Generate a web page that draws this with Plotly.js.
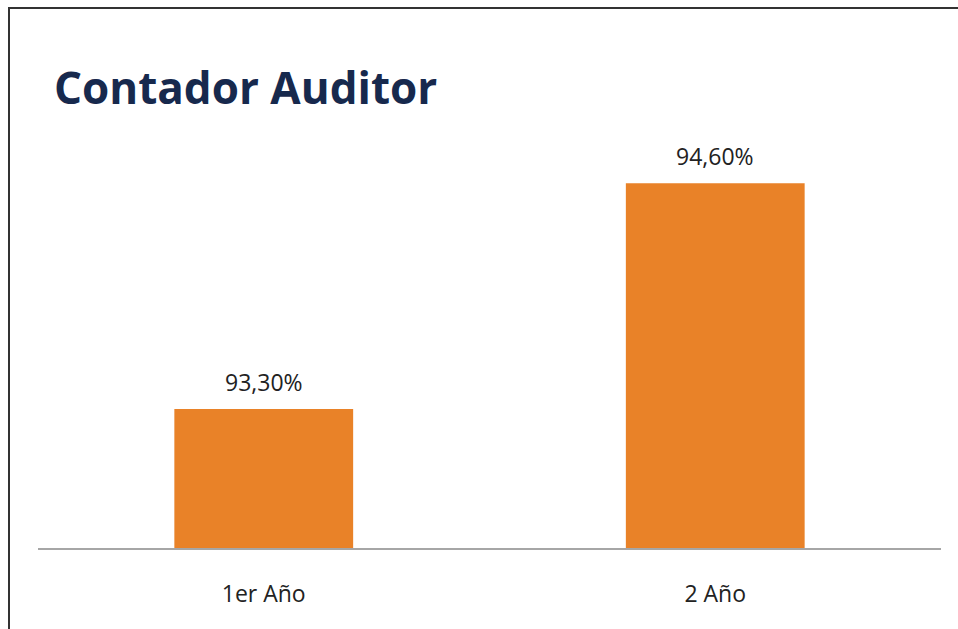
<!DOCTYPE html>
<html>
<head>
<meta charset="utf-8">
<script src="https://cdn.plot.ly/plotly-3.0.1.min.js"></script>
<style>
html,body{margin:0;padding:0;background:#fff;}
#wrap{position:relative;width:958px;height:629px;overflow:hidden;}
#frame{position:absolute;left:8px;top:7px;width:960px;height:640px;border-top:2px solid #333;border-left:2px solid #333;box-sizing:border-box;pointer-events:none;z-index:2;}
#chart{position:absolute;left:0;top:0;width:958px;height:629px;}
</style>
</head>
<body>
<div id="wrap"><div id="chart"></div><div id="frame"></div></div>
<script>
var categories = ["1er Año", "2 Año"];
var values = [93.3, 94.6];
var chartTitle = "Contador Auditor";

var trace = {
  type: "bar",
  x: categories,
  y: values,
  marker: {color: "#E98228", line: {width: 0}},
  hoverinfo: "none"
};

var annotations = categories.map(function(c, i){
  return {
    x: c, y: values[i], xref: "x", yref: "y",
    text: values[i].toFixed(2).replace(".", ",") + "%",
    showarrow: false, yanchor: "bottom", yshift: 9,
    font: {family: "Open Sans, sans-serif", size: 23, color: "#222"}
  };
});

var layout = {
  width: 958, height: 629,
  margin: {l: 38, r: 17, t: 131, b: 81},
  paper_bgcolor: "#fff", plot_bgcolor: "#fff",
  showlegend: false,
  bargap: 0.604,
  title: {
    text: "<b>" + chartTitle + "</b>",
    x: 0, xref: "paper", xanchor: "left",
    y: 1, yref: "container", yanchor: "top",
    pad: {t: 73, l: 16},
    font: {family: "Open Sans, sans-serif", size: 44, color: "#17294D"}
  },
  xaxis: {
    showline: true, linecolor: "#A6A6A6", linewidth: 2,
    showgrid: false, zeroline: false,
    ticks: "", ticklabelstandoff: 24,
    tickfont: {family: "Open Sans, sans-serif", size: 23, color: "#222"},
    fixedrange: true
  },
  yaxis: {
    range: [92.5, 94.9], visible: false, showgrid: false, zeroline: false, fixedrange: true
  },
  annotations: annotations
};

Plotly.newPlot("chart", [trace], layout, {displayModeBar: false, staticPlot: true});
</script>
</body>
</html>
